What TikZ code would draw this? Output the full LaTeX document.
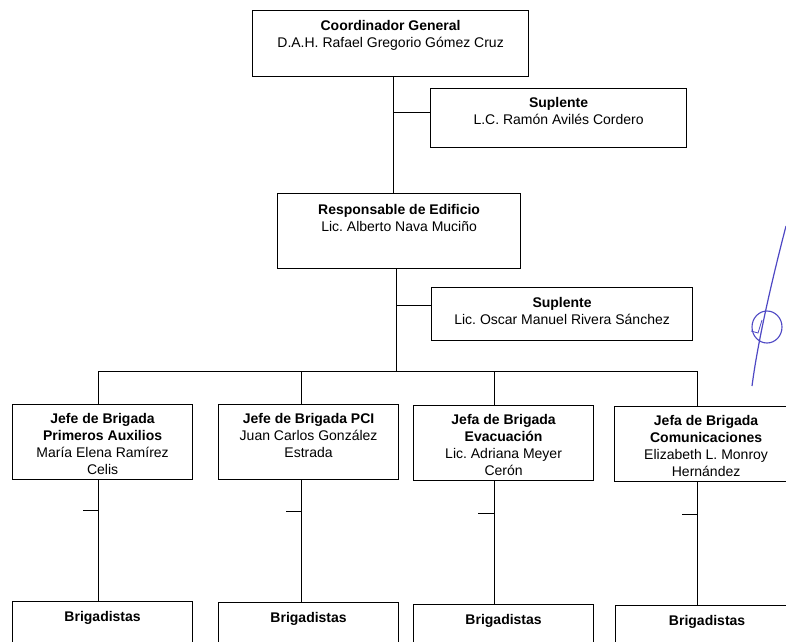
\documentclass[tikz,border=0pt]{standalone}
\usepackage{fontspec}
\setmainfont{Liberation Sans}
\usetikzlibrary{positioning}
\definecolor{firma}{RGB}{78,72,196}
\frenchspacing

\begin{document}
\begin{tikzpicture}[x=1pt, y=-1pt, line width=1pt,
        box/.style={draw, line width=1.2pt, anchor=north west, inner sep=0pt},
        txt/.style={anchor=north, align=center, inner sep=0pt, font=\fontsize{14}{17}\selectfont},
        brig/.style={box, minimum width=180pt, minimum height=60pt},
        jefe/.style={box, minimum width=180pt, minimum height=75pt}]
        \useasboundingbox (0,0) rectangle (786,641);
        \clip (0,0) rectangle (786,641);
        \node[box, minimum width=276pt, minimum height=66pt] (coord) at (252,10) {};
        \node[txt] (coord-t) at ([yshift=-10pt]coord.north) {\textbf{Coordinador General}\\D.A.H. Rafael Gregorio Gómez Cruz};
        \node[box, minimum width=256pt, minimum height=59pt] (sup1) at (430,88) {};
        \node[txt] (sup1-t) at ([yshift=-9pt]sup1.north) {\textbf{Suplente}\\L.C. Ramón Avilés Cordero};
        \node[box, minimum width=243pt, minimum height=75pt] (resp) at (277,193) {};
        \node[txt] (resp-t) at ([yshift=-11pt]resp.north) {\textbf{Responsable de Edificio}\\Lic. Alberto Nava Muciño};
        \node[box, minimum width=261pt, minimum height=53pt] (sup2) at (431,287) {};
        \node[txt] (sup2-t) at ([yshift=-10pt]sup2.north) {\textbf{Suplente}\\Lic. Oscar Manuel Rivera Sánchez};
        \node[jefe] (jefe1) at (12,404) {};
        \node[txt] (jefe1-t) at ([yshift=-9pt]jefe1.north) {\textbf{Jefe de Brigada}\\\textbf{Primeros Auxilios}\\María Elena Ramírez\\Celis};
        \node[jefe] (jefe2) at (218,404) {};
        \node[txt] (jefe2-t) at ([yshift=-9pt]jefe2.north) {\textbf{Jefe de Brigada PCI}\\Juan Carlos González\\Estrada};
        \node[jefe] (jefe3) at (413,405) {};
        \node[txt] (jefe3-t) at ([yshift=-9pt]jefe3.north) {\textbf{Jefa de Brigada}\\\textbf{Evacuación}\\Lic. Adriana Meyer\\Cerón};
        \node[jefe, minimum width=183pt] (jefe4) at (614,406) {};
        \node[txt] (jefe4-t) at ([yshift=-9pt]jefe4.north) {\textbf{Jefa de Brigada}\\\textbf{Comunicaciones}\\Elizabeth L. Monroy\\Hernández};
        \node[brig] (brig1) at (12,601) {};
        \node[txt] (brig1-t) at ([yshift=-10pt]brig1.north) {\textbf{Brigadistas}};
        \node[brig] (brig2) at (218,602) {};
        \node[txt] (brig2-t) at ([yshift=-10pt]brig2.north) {\textbf{Brigadistas}};
        \node[brig] (brig3) at (413,604) {};
        \node[txt] (brig3-t) at ([yshift=-10pt]brig3.north) {\textbf{Brigadistas}};
        \node[brig, minimum width=183pt] (brig4) at (615,605) {};
        \node[txt] (brig4-t) at ([yshift=-10pt]brig4.north) {\textbf{Brigadistas}};
        \coordinate (eje1) at (393,112);
        \coordinate (eje2) at (396,305);
        \coordinate (d1) at (98,371);
        \coordinate (d2) at (301,371);
        \coordinate (d3) at (494,371);
        \coordinate (d4) at (697,371);
        \draw (coord.south -| eje1) -- (resp.north -| eje1);
        \draw (eje1) -- (eje1 -| sup1.west);
        \draw (resp.south -| eje2) -- (d1 -| eje2);
        \draw (eje2) -- (eje2 -| sup2.west);
        \draw (d1) -- (d4);
        \draw (d1) -- (d1 |- jefe1.north) (d1 |- jefe1.south) -- (d1 |- brig1.north);
        \draw (d2) -- (d2 |- jefe2.north) (d2 |- jefe2.south) -- (d2 |- brig2.north);
        \draw (d3) -- (d3 |- jefe3.north) (d3 |- jefe3.south) -- (d3 |- brig3.north);
        \draw (d4) -- (d4 |- jefe4.north) (d4 |- jefe4.south) -- (d4 |- brig4.north);
        \coordinate (t1) at (98,510);
        \coordinate (t2) at (301,511);
        \coordinate (t3) at (494,513);
        \coordinate (t4) at (697,514);
        \draw (t1) -- ++(-15,0);
        \draw (t2) -- ++(-15,0);
        \draw (t3) -- ++(-16,0);
        \draw (t4) -- ++(-15,0);
        \draw[firma, line width=1.2pt] (786,226) .. controls (772,280) and (758,340) .. (752,386);
        \draw[firma, line width=1.1pt] (767,327) ellipse (15pt and 16pt);
        \draw[firma, line width=0.8pt] (751,331) -- (758,333) -- (762,320);
\end{tikzpicture}
\end{document}
